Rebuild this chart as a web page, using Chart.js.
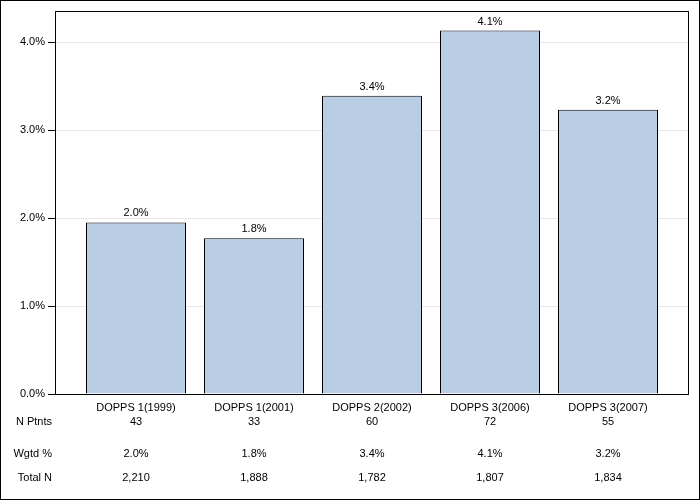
<!DOCTYPE html>
<html>
<head>
<meta charset="utf-8">
<script src="https://cdn.jsdelivr.net/npm/chart.js@4/dist/chart.umd.min.js"></script>
<style>
  html, body { margin: 0; padding: 0; background: #fff; }
  #wrap { width: 700px; height: 500px; position: relative; }
</style>
</head>
<body>
<div id="wrap"><canvas id="myChart" width="700" height="500"></canvas></div>
<script>
// data
const categories = ["DOPPS 1(1999)", "DOPPS 1(2001)", "DOPPS 2(2002)", "DOPPS 3(2006)", "DOPPS 3(2007)"];
const percentValues = [1.95, 1.77, 3.39, 4.13, 3.23];
const nPatients = ["43", "33", "60", "72", "55"];
const wgtdPct = ["2.0%", "1.8%", "3.4%", "4.1%", "3.2%"];
const totalN = ["2,210", "1,888", "1,782", "1,807", "1,834"];
const yTicks = [0, 1, 2, 3, 4];

const FONT = "'Liberation Sans', Arial, sans-serif";

// frame around whole picture and around the plot, bar labels, and the table below
const extras = {
    id: "extras",
    afterDraw(chart) {
        const ctx = chart.ctx;
        const area = chart.chartArea;
        const x = chart.scales.x;
        const meta = chart.getDatasetMeta(0);
        ctx.save();
        ctx.strokeStyle = "#000";
        ctx.lineWidth = 1;
        ctx.strokeRect(0.5, 0.5, chart.width - 1, chart.height - 1);
        ctx.strokeRect(Math.round(area.left) + 0.5, Math.round(area.top) + 0.5,
            Math.round(area.right - area.left) - 1, Math.round(area.bottom - area.top));

        ctx.fillStyle = "#000";
        ctx.font = "11px " + FONT;
        ctx.textAlign = "center";
        ctx.textBaseline = "middle";
        meta.data.forEach((bar, i) => {
            ctx.fillText(wgtdPct[i], bar.x, bar.y - 9);
        });

        const rows = [
            ["N Ptnts", nPatients, 422],
            ["Wgtd %", wgtdPct, 454],
            ["Total N", totalN, 478]
        ];
        rows.forEach(([label, vals, y]) => {
            ctx.textAlign = "right";
            ctx.fillText(label, 52, y);
            ctx.textAlign = "center";
            vals.forEach((v, i) => ctx.fillText(v, x.getPixelForValue(i), y));
        });
        ctx.restore();
    }
};

new Chart(document.getElementById("myChart").getContext("2d"), {
    type: "bar",
    data: {
        datasets: [{
            data: percentValues.map((v, i) => ({ x: i, y: v })),
            backgroundColor: "#B9CDE5",
            borderColor: "#000",
            borderWidth: 1,
            borderSkipped: "bottom",
            categoryPercentage: 1,
            barPercentage: 100 / 118
        }]
    },
    options: {
        responsive: false,
        animation: false,
        devicePixelRatio: 1,
        layout: { padding: { top: 11, right: 11, left: 0, bottom: 0 } },
        plugins: { legend: { display: false }, tooltip: { enabled: false } },
        scales: {
            x: {
                type: "linear",
                offset: false,
                min: -81 / 118,
                max: 634 / 118 - 81 / 118,
                afterBuildTicks: s => { s.ticks = categories.map((c, i) => ({ value: i })); },
                afterFit: s => { s.height = 106; },
                grid: { display: false, drawTicks: false, offset: false },
                border: { display: false },
                ticks: {
                    autoSkip: false,
                    maxRotation: 0,
                    padding: 7,
                    color: "#000",
                    font: { family: FONT, size: 11 },
                    callback: v => categories[v]
                }
            },
            y: {
                min: 0,
                max: 383 / 88,
                afterBuildTicks: s => { s.ticks = yTicks.map(v => ({ value: v })); },
                afterFit: s => { s.width = 55; },
                grid: { color: "#e8e8e8", tickColor: "#000", tickLength: 7 },
                border: { display: false },
                ticks: {
                    padding: 3,
                    color: "#000",
                    font: { family: FONT, size: 11 },
                    callback: v => v.toFixed(1) + "%"
                }
            }
        }
    },
    plugins: [extras]
});
</script>
</body>
</html>
